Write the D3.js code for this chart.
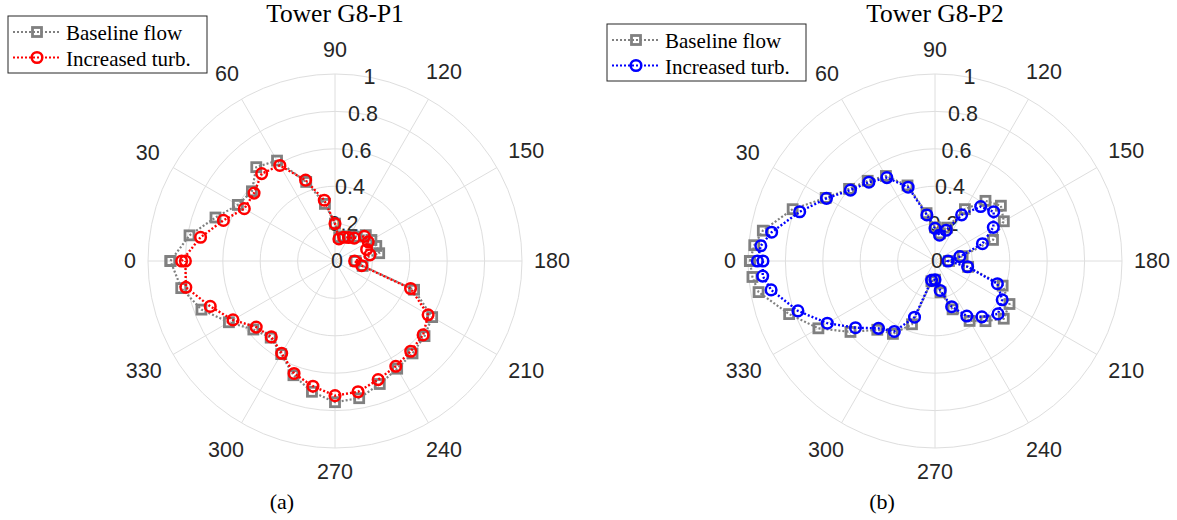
<!DOCTYPE html>
<html>
<head>
<meta charset="utf-8">
<script src="https://cdn.jsdelivr.net/npm/d3@7"></script>
<style>
  body { margin: 0; background: #fff; }
  svg { display: block; }
  .grid { fill: none; stroke: #dedede; stroke-width: 1; }
  .tick { font-family: "Liberation Sans", Arial, sans-serif; font-size: 21.5px; fill: #262626; }
  .serif { font-family: "Liberation Serif", "DejaVu Serif", serif; fill: #000; }
</style>
</head>
<body>
<svg width="1177" height="520"></svg>
<script>
// angles in degrees, 0 at left, growing clockwise
var anglesP1 = [0,10,20,30,40,50,60,70,80,90,100,110,120,130,140,150,160,170,180,
  190,200,210,220,230,240,250,260,270,280,290,300,310,320,330,340,350,360];
var baseP1 = [0.88,0.79,0.68,0.60,0.58,0.655,0.62,0.45,0.31,0.20,0.13,0.14,0.15,0.17,0.215,0.225,0.235,0.24,0.11,
  0.15,0.45,0.60,0.625,0.645,0.665,0.70,0.745,0.755,0.71,0.65,0.575,0.535,0.57,0.655,0.76,0.835,0.88];
var turbP1 = [0.82,0.73,0.635,0.56,0.565,0.61,0.59,0.46,0.33,0.20,0.12,0.135,0.145,0.16,0.205,0.205,0.18,0.19,0.105,
  0.145,0.43,0.575,0.615,0.63,0.65,0.675,0.71,0.72,0.68,0.64,0.57,0.53,0.55,0.63,0.71,0.81,0.80];

var anglesP2 = [0,5,10,20,30,40,50,60,70,80,90,100,110,120,130,140,150,160,170,180,
  190,200,210,220,230,240,250,260,270,280,290,300,310,320,330,340,350,355,360];
var baseP2 = [0.99,0.97,0.935,0.81,0.675,0.60,0.56,0.525,0.43,0.26,0.18,0.15,0.19,0.32,0.42,0.46,0.425,0.33,0.15,0.075,
  0.18,0.385,0.46,0.48,0.42,0.37,0.275,0.17,0.10,0.11,0.36,0.45,0.48,0.59,0.72,0.83,0.958,0.98,0.99];
var turbP2 = [0.95,0.935,0.887,0.77,0.67,0.59,0.55,0.515,0.42,0.25,0.175,0.14,0.175,0.285,0.38,0.41,0.36,0.27,0.135,0.07,
  0.177,0.355,0.415,0.44,0.39,0.34,0.26,0.16,0.10,0.105,0.32,0.435,0.47,0.555,0.665,0.78,0.89,0.925,0.92];

var rTicks = [0, 0.2, 0.4, 0.6, 0.8, 1];
var thetaTicks = [0,30,60,90,120,150,180,210,240,270,300,330];
var seriesNames = ["Baseline flow", "Increased turb."];

var svg = d3.select("svg");
var R = 187;
var r = d3.scaleLinear().domain([0, 1]).range([0, R]);

// theta (deg) -> d3 radial angle
function ang(t) { return (t - 90) * Math.PI / 180; }
function pos(t, v) {
  var a = ang(t);
  return [r(v) * Math.sin(a), -r(v) * Math.cos(a)];
}

function drawSquare(g, x, y, col) {
  g.append("rect").attr("x", x - 4.5).attr("y", y - 4.5).attr("width", 9).attr("height", 9)
    .attr("fill", "none").attr("stroke", col).attr("stroke-width", 2.8);
}
function drawCircle(g, x, y, col) {
  g.append("circle").attr("cx", x).attr("cy", y).attr("r", 5.3)
    .attr("fill", "none").attr("stroke", col).attr("stroke-width", 2.5);
}

function polar(cx, cy, title, label, angles, base, turb, col) {
  var g = svg.append("g").attr("transform", "translate(" + cx + "," + cy + ")");

  g.selectAll(".ring").data(rTicks.slice(1)).enter().append("circle")
    .attr("class", "grid").attr("r", function (d) { return r(d); });
  g.selectAll(".spoke").data(thetaTicks).enter().append("line")
    .attr("class", "grid")
    .attr("x1", 0).attr("y1", 0)
    .attr("x2", function (d) { return pos(d, 1)[0]; })
    .attr("y2", function (d) { return pos(d, 1)[1]; });

  // angle labels pushed out by their own box
  g.selectAll(".tl").data(thetaTicks).enter().append("text")
    .attr("class", "tick").attr("text-anchor", "middle").attr("dominant-baseline", "central")
    .text(function (d) { return d; })
    .each(function (d) {
      var w = this.getComputedTextLength();
      var a = ang(d), ux = Math.sin(a), uy = -Math.cos(a);
      var dist = 199 + Math.sqrt(Math.pow(ux * w / 2, 2) + Math.pow(uy * 12, 2))
        + 6 * Math.abs(Math.sin(2 * d * Math.PI / 180));
      d3.select(this).attr("x", ux * dist).attr("y", uy * dist);
    });

  g.selectAll(".rl").data(rTicks).enter().append("text")
    .attr("class", "tick").attr("text-anchor", "middle").attr("dominant-baseline", "central")
    .attr("x", function (d) { return pos(100, d)[0] + 2; })
    .attr("y", function (d) { return pos(100, d)[1]; })
    .text(function (d) { return d; });

  var line = d3.lineRadial()
    .angle(function (d) { return ang(d[0]); })
    .radius(function (d) { return r(d[1]); });

  var bData = angles.map(function (t, i) { return [t, base[i]]; });
  var tData = angles.map(function (t, i) { return [t, turb[i]]; });

  g.append("path").attr("d", line(bData)).attr("fill", "none")
    .attr("stroke", "#808080").attr("stroke-width", 2.2).attr("stroke-dasharray", "2,2");
  bData.forEach(function (d) { var p = pos(d[0], d[1]); drawSquare(g, p[0], p[1], "#808080"); });

  g.append("path").attr("d", line(tData)).attr("fill", "none")
    .attr("stroke", col).attr("stroke-width", 2.4).attr("stroke-dasharray", "2,2");
  tData.forEach(function (d) { var p = pos(d[0], d[1]); drawCircle(g, p[0], p[1], col); });

  svg.append("text").attr("class", "serif").attr("x", cx).attr("y", 22)
    .attr("text-anchor", "middle").attr("font-size", 25.5).text(title);
  svg.append("text").attr("class", "serif").attr("x", cx - 53).attr("y", 509)
    .attr("text-anchor", "middle").attr("font-size", 22).text(label);
}

function legend(x, y, col) {
  var lg = svg.append("g").attr("transform", "translate(" + x + "," + y + ")");
  lg.append("rect").attr("width", 199).attr("height", 57)
    .attr("fill", "#fff").attr("stroke", "#262626").attr("stroke-width", 1);
  [0, 1].forEach(function (i) {
    var yy = 16 + i * 25.5;
    var c = i === 0 ? "#808080" : col;
    lg.append("line").attr("x1", 5).attr("x2", 53).attr("y1", yy).attr("y2", yy)
      .attr("stroke", c).attr("stroke-width", 2.2).attr("stroke-dasharray", "2,2");
    if (i === 0) drawSquare(lg, 29, yy, c); else drawCircle(lg, 29, yy, c);
    lg.append("text").attr("class", "serif").attr("x", 58).attr("y", yy + 1)
      .attr("dominant-baseline", "central").attr("font-size", 21).text(seriesNames[i]);
  });
}

polar(335, 261, "Tower G8-P1", "(a)", anglesP1, baseP1, turbP1, "#ff0000");
polar(935, 261, "Tower G8-P2", "(b)", anglesP2, baseP2, turbP2, "#0000ff");
legend(8, 16, "#ff0000");
legend(607, 24, "#0000ff");
</script>
</body>
</html>
